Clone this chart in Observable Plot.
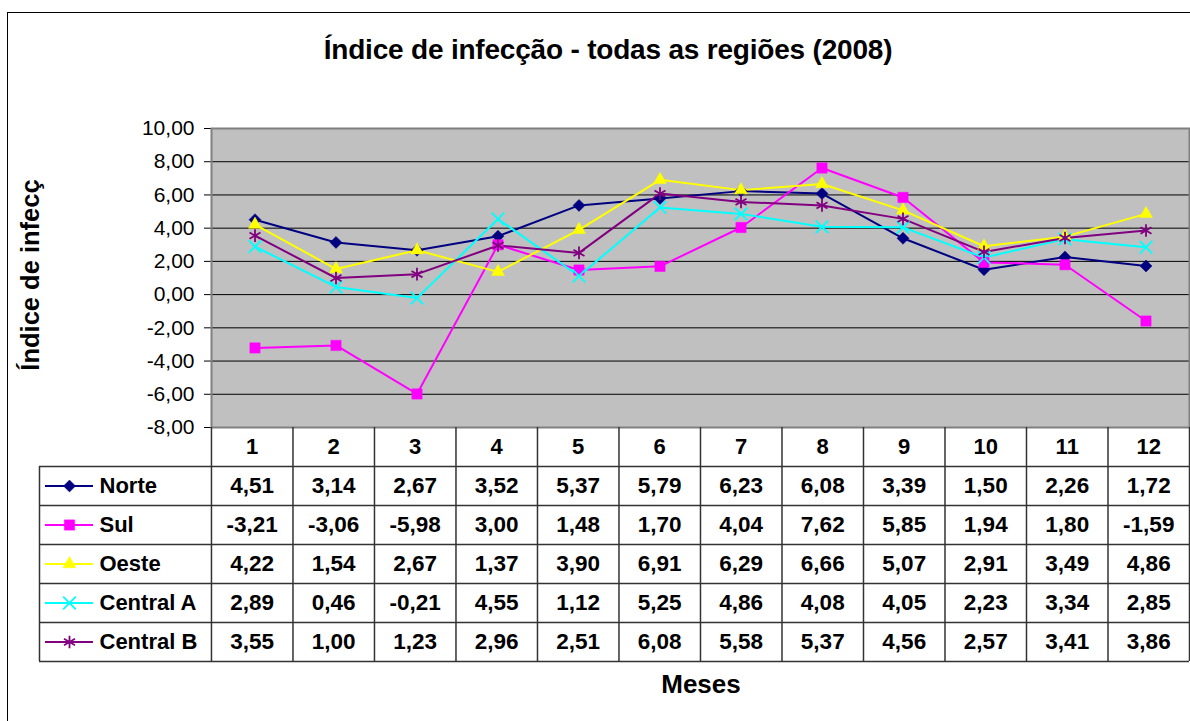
<!DOCTYPE html>
<html>
<head>
<meta charset="utf-8">
<script src="https://cdn.jsdelivr.net/npm/d3@7"></script>
<script src="https://cdn.jsdelivr.net/npm/@observablehq/plot@0.6"></script>
<style>
  body { margin: 0; background: #fff; }
  #wrap { position: relative; width: 1190px; height: 721px; overflow: hidden; background: #fff;
          font-family: "Liberation Sans", Arial, sans-serif; color: #000; }
  #border { position: absolute; left: 7px; top: 12px; width: 1300px; height: 800px;
            border-top: 1.5px solid #000; border-left: 1.5px solid #000; }
  #title { position: absolute; left: 108px; width: 1000px; top: 35px; text-align: center;
           font-size: 28px; line-height: 30px; font-weight: bold; letter-spacing: -0.2px; }
  #xtitle { position: absolute; left: 201px; width: 1000px; top: 669px; text-align: center;
            font-size: 26px; line-height: 30px; font-weight: bold; }
  #chart, #table { position: absolute; left: 0; }
  #chart { top: 0; }
  #table { top: 427px; }
</style>
</head>
<body>
<div id="wrap">
  <div id="border"></div>
  <div id="title">Índice de infecção - todas as regiões (2008)</div>
  <div id="chart"></div>
  <div id="table"></div>
  <div id="xtitle">Meses</div>
</div>
<script>
const months = [1, 2, 3, 4, 5, 6, 7, 8, 9, 10, 11, 12];
const seriesNames = ["Norte", "Sul", "Oeste", "Central A", "Central B"];
const norte    = [4.51, 3.14, 2.67, 3.52, 5.37, 5.79, 6.23, 6.08, 3.39, 1.50, 2.26, 1.72];
const sul      = [-3.21, -3.06, -5.98, 3.00, 1.48, 1.70, 4.04, 7.62, 5.85, 1.94, 1.80, -1.59];
const oeste    = [4.22, 1.54, 2.67, 1.37, 3.90, 6.91, 6.29, 6.66, 5.07, 2.91, 3.49, 4.86];
const centralA = [2.89, 0.46, -0.21, 4.55, 1.12, 5.25, 4.86, 4.08, 4.05, 2.23, 3.34, 2.85];
const centralB = [3.55, 1.00, 1.23, 2.96, 2.51, 6.08, 5.58, 5.37, 4.56, 2.57, 3.41, 3.86];
const yTicks = [-8, -6, -4, -2, 0, 2, 4, 6, 8, 10];
const yTitle = "Índice de infecç";

const colors  = ["#000080", "#ff00ff", "#ffff00", "#00ffff", "#800080"];
const symbols = ["diamond2", "square", "triangle", "times", "asterisk"];
const filled  = [true, true, true, false, false];
const radii   = [5.4, 5.8, 4.8, 5.8, 6.0];

const values = [norte, sul, oeste, centralA, centralB];
const FONT = "'Liberation Sans', Arial, sans-serif";
const fmt = v => (v < 0 ? "-" : "") + Math.abs(v).toFixed(2).replace(".", ",");

const rows = [];
seriesNames.forEach((s, i) => values[i].forEach((v, j) => rows.push({series: s, idx: i, month: months[j], value: v})));

// ---------- Chart ----------
const chartMarks = [
  Plot.frame({fill: "#c0c0c0", stroke: null}),
  Plot.ruleY(yTicks, {stroke: "#000", strokeWidth: 1}),
  Plot.frame({stroke: "#808080", strokeWidth: 2}),
  Plot.text([yTitle], {frameAnchor: "left", textAnchor: "middle", dx: -181, dy: -3, rotate: -90,
                       fontSize: 25.5, fontWeight: "bold", fill: "#000"})
];
seriesNames.forEach((s, i) => {
  const data = rows.filter(d => d.idx === i);
  chartMarks.push(Plot.line(data, {x: "month", y: "value", stroke: colors[i], strokeWidth: 2}));
});
seriesNames.forEach((s, i) => {
  const data = rows.filter(d => d.idx === i);
  chartMarks.push(Plot.dot(data, filled[i]
    ? {x: "month", y: "value", symbol: symbols[i], r: radii[i], fill: colors[i], stroke: colors[i], strokeWidth: 0.5}
    : {x: "month", y: "value", symbol: symbols[i], r: radii[i], fill: "none", stroke: colors[i], strokeWidth: 1.8}));
});

const chart = Plot.plot({
  width: 1190, height: 430,
  marginLeft: 211, marginRight: 1, marginTop: 128, marginBottom: 3,
  style: {background: "transparent", fontFamily: FONT, fontSize: "21px", color: "#000", overflow: "visible"},
  x: {type: "band", domain: months, padding: 0, axis: null},
  y: {domain: [-8, 10], ticks: yTicks, tickFormat: fmt, tickSize: 7, tickPadding: 10, label: null, line: true},
  marks: chartMarks
});
document.getElementById("chart").append(chart);

// ---------- Data table ----------
const L = 2.11;          // legend column width in month units
const unit = 978 / 12;   // px per month column
const gridStyle = {stroke: "#333", strokeWidth: 1.5};
const tableMarks = [
  Plot.ruleX(d3.range(0, 13), {y1: 0, y2: 6, ...gridStyle}),
  Plot.ruleX([-L], {y1: 1, y2: 6, ...gridStyle}),
  Plot.ruleY(d3.range(1, 7), {x1: -L, x2: 12, ...gridStyle}),
  Plot.text(months, {x: d => d - 0.5, y: 0.5, text: d => String(d), fontWeight: "bold", fontSize: 22, fill: "#000"}),
  Plot.text(rows, {x: d => d.month - 0.5, y: d => d.idx + 1.5, text: d => fmt(d.value), fontWeight: "bold", fontSize: 22.5, fill: "#000"}),
  Plot.text(seriesNames, {x: -L, y: (d, i) => i + 1.5, dx: 60, textAnchor: "start", fontWeight: "bold", fontSize: 22, fill: "#000"})
];
seriesNames.forEach((s, i) => {
  tableMarks.push(Plot.ruleY([i + 1.5], {x1: -L, x2: -L + 48 / unit, dx: 6, stroke: colors[i], strokeWidth: 2}));
  tableMarks.push(Plot.dot([i + 1.5], filled[i]
    ? {x: -L, y: d => d, dx: 30, symbol: symbols[i], r: radii[i], fill: colors[i], stroke: colors[i], strokeWidth: 0.5}
    : {x: -L, y: d => d, dx: 30, symbol: symbols[i], r: radii[i], fill: "none", stroke: colors[i], strokeWidth: 1.8}));
});

const table = Plot.plot({
  width: 1190, height: 236,
  marginLeft: 39, marginRight: 1, marginTop: 0, marginBottom: 2,
  style: {background: "transparent", fontFamily: FONT, fontSize: "22px", color: "#000", overflow: "visible"},
  x: {domain: [-L, 12], axis: null},
  y: {domain: [0, 6], reverse: true, axis: null},
  marks: tableMarks
});
document.getElementById("table").append(table);
</script>
</body>
</html>
